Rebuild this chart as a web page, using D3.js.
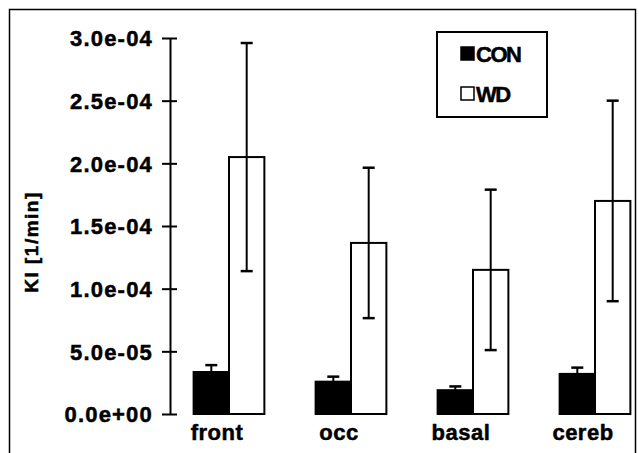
<!DOCTYPE html>
<meta charset="utf-8">
<script src="https://d3js.org/d3.v7.min.js"></script>
<title>Ki by region</title>
<style>
    body { margin: 0; background: #fff; }
    text { font-family: "Liberation Sans", Arial, sans-serif; font-weight: bold; fill: #000; stroke: #000; stroke-width: 0.5px; }
</style>
<div id="my_dataviz"></div>
<script>
    // values
    const regions = ["front", "occ", "basal", "cereb"];
    const groups = ["CON", "WD"];
    const conValues = [3.35e-5, 2.58e-5, 1.9e-5, 3.2e-5];
    const conErrors = [0.55e-5, 0.4e-5, 0.3e-5, 0.5e-5];
    const wdValues = [2.05e-4, 1.365e-4, 1.15e-4, 1.70e-4];
    const wdErrors = [0.91e-4, 0.6e-4, 0.64e-4, 0.8e-4];
    const yTicks = [0, 5e-5, 1e-4, 1.5e-4, 2e-4, 2.5e-4, 3e-4];
    const yTickLabels = ["0.0e+00", "5.0e-05", "1.0e-04", "1.5e-04", "2.0e-04", "2.5e-04", "3.0e-04"];

    const W = 639, H = 453;

    const svg = d3.select("#my_dataviz")
        .append("svg")
        .attr("width", W)
        .attr("height", H);

    // outer frame (bottom edge runs off the picture)
    svg.append("rect")
        .attr("x", 9.5).attr("y", 9.5)
        .attr("width", 626).attr("height", 460)
        .attr("fill", "none")
        .attr("stroke", "#000")
        .attr("stroke-width", 1.5);

    const y = d3.scaleLinear()
        .domain([0, 3e-4])
        .range([414, 38]);

    const x = d3.scaleBand()
        .domain(regions)
        .range([168, 656])
        .paddingInner(0.42)
        .paddingOuter(0.21);

    const xSub = d3.scaleBand()
        .domain(groups)
        .range([0, x.bandwidth()]);

    // y axis
    const yAxis = d3.axisLeft(y)
        .tickValues(yTicks)
        .tickFormat((d, i) => yTickLabels[i])
        .tickSizeInner(8)
        .tickSizeOuter(0)
        .tickPadding(10);

    const gy = svg.append("g")
        .attr("transform", "translate(170,0)")
        .call(yAxis);
    gy.select(".domain").attr("stroke-width", 2);
    gy.selectAll(".tick line")
        .attr("x1", 7).attr("x2", -8)
        .attr("stroke-width", 2);
    gy.selectAll(".tick text")
        .attr("x", -17)
        .attr("dy", "0.36em")
        .attr("stroke", "#000")
        .attr("stroke-width", 0.5)
        .style("font-size", "22px")
        .style("letter-spacing", "1.2px")
        .style("font-family", "'Liberation Sans', Arial, sans-serif")
        .style("font-weight", "bold");

    svg.append("text")
        .attr("transform", "translate(38,242) rotate(-90)")
        .attr("text-anchor", "middle")
        .style("font-size", "19px")
        .style("letter-spacing", "1.5px")
        .text("Kl [1/min]");

    // bars
    const rows = regions.map((r, i) => ({
        region: r,
        items: [
            {key: "CON", value: conValues[i], err: conErrors[i]},
            {key: "WD", value: wdValues[i], err: wdErrors[i]}
        ]
    }));

    const grp = svg.append("g")
        .selectAll("g")
        .data(rows)
        .join("g")
        .attr("transform", d => `translate(${x(d.region)},0)`);

    grp.selectAll("rect")
        .data(d => d.items)
        .join("rect")
        .attr("x", d => xSub(d.key))
        .attr("y", d => y(d.value))
        .attr("width", xSub.bandwidth())
        .attr("height", d => y(0) - y(d.value))
        .attr("fill", d => d.key === "CON" ? "#000" : "#fff")
        .attr("stroke", "#000")
        .attr("stroke-width", 2);

    // error bars
    const err = grp.selectAll("g.err")
        .data(d => d.items)
        .join("g")
        .attr("class", "err")
        .attr("transform", d => `translate(${xSub(d.key) + xSub.bandwidth() / 2},0)`);

    err.append("line")
        .attr("y1", d => y(d.value - d.err))
        .attr("y2", d => y(d.value + d.err))
        .attr("stroke", "#000")
        .attr("stroke-width", 2);
    err.append("line")
        .attr("x1", -6).attr("x2", 6)
        .attr("y1", d => y(d.value + d.err))
        .attr("y2", d => y(d.value + d.err))
        .attr("stroke", "#000")
        .attr("stroke-width", 2.5);
    err.append("line")
        .attr("x1", -6).attr("x2", 6)
        .attr("y1", d => y(d.value - d.err))
        .attr("y2", d => y(d.value - d.err))
        .attr("stroke", "#000")
        .attr("stroke-width", 2.5);

    // category labels
    svg.append("g")
        .selectAll("text")
        .data(regions)
        .join("text")
        .attr("x", d => x(d) + x.bandwidth() / 2 - 12)
        .attr("y", 440)
        .attr("text-anchor", "middle")
        .style("font-size", "22px")
        .style("letter-spacing", "0.5px")
        .text(d => d);

    // legend
    const legend = svg.append("g").attr("transform", "translate(437,32)");
    legend.append("rect")
        .attr("width", 110).attr("height", 85)
        .attr("fill", "#fff")
        .attr("stroke", "#000")
        .attr("stroke-width", 2);

    const li = legend.selectAll("g.item")
        .data(groups)
        .join("g")
        .attr("class", "item")
        .attr("transform", (d, i) => `translate(24,${15 + i * 40})`);
    li.append("rect")
        .attr("width", 13).attr("height", 13)
        .attr("fill", d => d === "CON" ? "#000" : "#fff")
        .attr("stroke", "#000")
        .attr("stroke-width", 1.5);
    li.append("text")
        .attr("x", 15)
        .attr("y", 14.5)
        .style("font-size", "22px")
        .style("letter-spacing", "-1.5px")
        .text(d => d);
</script>
